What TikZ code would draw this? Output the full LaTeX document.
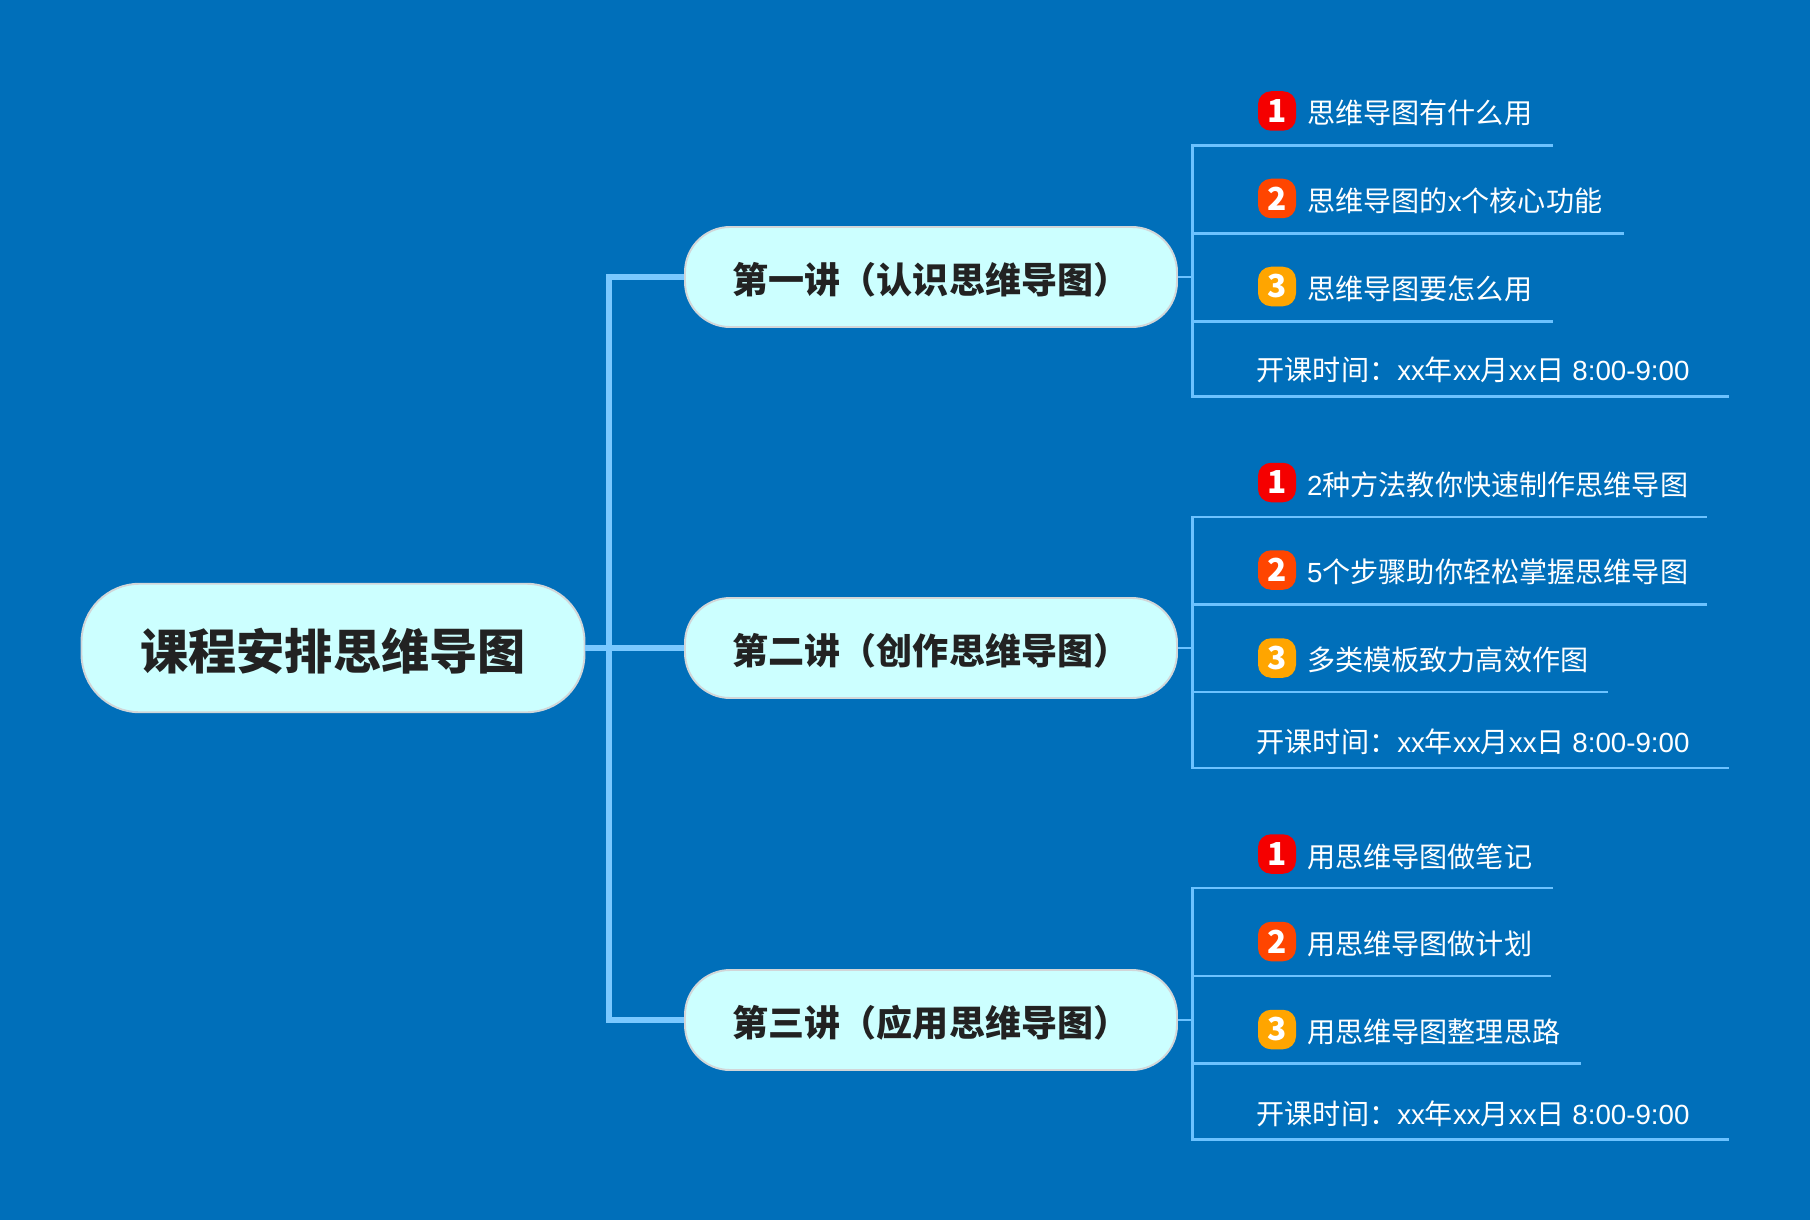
\documentclass[tikz,border=0pt]{standalone}
\usepackage{fontspec}
\setmainfont[Scale=0.985]{Liberation Sans}
\newfontfamily\cjk{Noto Sans CJK SC}
\usepackage{tikz}
\definecolor{bluebg}{HTML}{006FBA}
\definecolor{paleline}{HTML}{6CC2FF}
\definecolor{paletrunk}{HTML}{7AC8FF}
\definecolor{palefill}{HTML}{CCFFFF}
\definecolor{palerim}{HTML}{D2D6D8}
\definecolor{inkdark}{HTML}{222222}
\definecolor{badgeone}{HTML}{F50000}
\definecolor{badgetwo}{HTML}{FF4500}
\definecolor{badgethree}{HTML}{FFA500}
\tikzset{
  rootbox/.style={draw=palerim,line width=0.55pt,fill=palefill,rounded corners=0.58cm,minimum width=5.03cm,minimum height=1.285cm,inner sep=0pt,text=inkdark,text height=0.424cm,text depth=0cm,font=\cjk\bfseries\fontsize{13.7}{16}\selectfont},
  lecbox/.style={draw=palerim,line width=0.55pt,fill=palefill,rounded corners=0.45cm,minimum width=4.92cm,minimum height=1.0cm,inner sep=0pt,text=inkdark,text height=0.324cm,text depth=0cm,font=\cjk\bfseries\fontsize{10.25}{12}\selectfont},
  trunk/.style={draw=paletrunk,line width=1.45pt,line join=miter},
  twig/.style={draw=paleline,line width=0.6pt,line join=miter},
  rowtext/.style={anchor=west,inner sep=0pt,text=white,text height=0.24cm,text depth=0.03cm,font=\fontsize{8}{10}\selectfont},
  badge/.style={rounded corners=0.13cm,minimum width=0.38cm,minimum height=0.395cm,inner sep=0pt,text=white,font=\cjk\bfseries\fontsize{9}{10}\selectfont},
}
\begin{document}
\begin{tikzpicture}
\fill[bluebg] (0,0) rectangle (18.10,12.20);
\useasboundingbox (0,0) rectangle (18.10,12.20);
% trunk and branch points
\coordinate (junc) at (6.09,5.72);
\coordinate (a1s) at (11.925,10.745); \coordinate (a1e) at (15.525,10.745);
\coordinate (a2s) at (11.925,9.865);  \coordinate (a2e) at (16.235,9.865);
\coordinate (a3s) at (11.925,8.985);  \coordinate (a3e) at (15.525,8.985);
\coordinate (a4s) at (11.925,8.235);  \coordinate (a4e) at (17.285,8.235);
\coordinate (b1s) at (11.925,7.03);   \coordinate (b1e) at (17.065,7.03);
\coordinate (b2s) at (11.925,6.155);  \coordinate (b2e) at (17.065,6.155);
\coordinate (b3s) at (11.925,5.28);   \coordinate (b3e) at (16.075,5.28);
\coordinate (b4s) at (11.925,4.52);   \coordinate (b4e) at (17.285,4.52);
\coordinate (c1s) at (11.925,3.32);   \coordinate (c1e) at (15.525,3.32);
\coordinate (c2s) at (11.925,2.44);   \coordinate (c2e) at (15.505,2.44);
\coordinate (c3s) at (11.925,1.565);  \coordinate (c3e) at (15.805,1.565);
\coordinate (c4s) at (11.925,0.805);  \coordinate (c4e) at (17.285,0.805);
% main boxes
\node[rootbox] (root) at (3.33,5.72) {课程安排思维导图};
\node[lecbox] (lec1) at (9.31,9.43) {第一讲（认识思维导图）};
\node[lecbox] (lec2) at (9.31,5.72) {第二讲（创作思维导图）};
\node[lecbox] (lec3) at (9.31,2.00) {第三讲（应用思维导图）};
\draw[trunk] (lec1.west) -- (lec1.west -| junc) -- (lec3.west -| junc) -- (lec3.west);
\draw[trunk] (root.east) -- (lec2.west);
% first lecture
\draw[twig] (lec1.east) -- (lec1.east -| a1s);
\draw[twig] (a1e) -- (a1s) -- (a4s) -- (a4e);
\draw[twig] (a2s) -- (a2e);
\draw[twig] (a3s) -- (a3e);
\node[badge,fill=badgeone] (a1b) at (12.77,11.09) {1};
\node[badge,fill=badgetwo] (a2b) at (12.77,10.215) {2};
\node[badge,fill=badgethree] (a3b) at (12.77,9.335) {3};
\node[rowtext] (a1) at (13.065,11.065) {\cjk 思维导图有什么用};
\node[rowtext] (a2) at (13.065,10.195) {{\cjk 思维导图的}x{\cjk 个核心功能}};
\node[rowtext] (a3) at (13.065,9.315) {\cjk 思维导图要怎么用};
\node[rowtext] (a4) at (12.56,8.505) {{\cjk 开课时间：}xx{\cjk 年}xx{\cjk 月}xx{\cjk 日} 8:00-9:00};
% second lecture
\draw[twig] (lec2.east) -- (lec2.east -| b1s);
\draw[twig] (b1e) -- (b1s) -- (b4s) -- (b4e);
\draw[twig] (b2s) -- (b2e);
\draw[twig] (b3s) -- (b3e);
\node[badge,fill=badgeone] (b1b) at (12.77,7.375) {1};
\node[badge,fill=badgetwo] (b2b) at (12.77,6.50) {2};
\node[badge,fill=badgethree] (b3b) at (12.77,5.62) {3};
\node[rowtext] (b1) at (13.065,7.35) {2{\cjk 种方法教你快速制作思维导图}};
\node[rowtext] (b2) at (13.065,6.48) {5{\cjk 个步骤助你轻松掌握思维导图}};
\node[rowtext] (b3) at (13.065,5.60) {\cjk 多类模板致力高效作图};
\node[rowtext] (b4) at (12.56,4.78) {{\cjk 开课时间：}xx{\cjk 年}xx{\cjk 月}xx{\cjk 日} 8:00-9:00};
% third lecture
\draw[twig] (lec3.east) -- (lec3.east -| c1s);
\draw[twig] (c1e) -- (c1s) -- (c4s) -- (c4e);
\draw[twig] (c2s) -- (c2e);
\draw[twig] (c3s) -- (c3e);
\node[badge,fill=badgeone] (c1b) at (12.77,3.66) {1};
\node[badge,fill=badgetwo] (c2b) at (12.77,2.785) {2};
\node[badge,fill=badgethree] (c3b) at (12.77,1.905) {3};
\node[rowtext] (c1) at (13.065,3.635) {\cjk 用思维导图做笔记};
\node[rowtext] (c2) at (13.065,2.76) {\cjk 用思维导图做计划};
\node[rowtext] (c3) at (13.065,1.88) {\cjk 用思维导图整理思路};
\node[rowtext] (c4) at (12.56,1.06) {{\cjk 开课时间：}xx{\cjk 年}xx{\cjk 月}xx{\cjk 日} 8:00-9:00};
\end{tikzpicture}
\end{document}
